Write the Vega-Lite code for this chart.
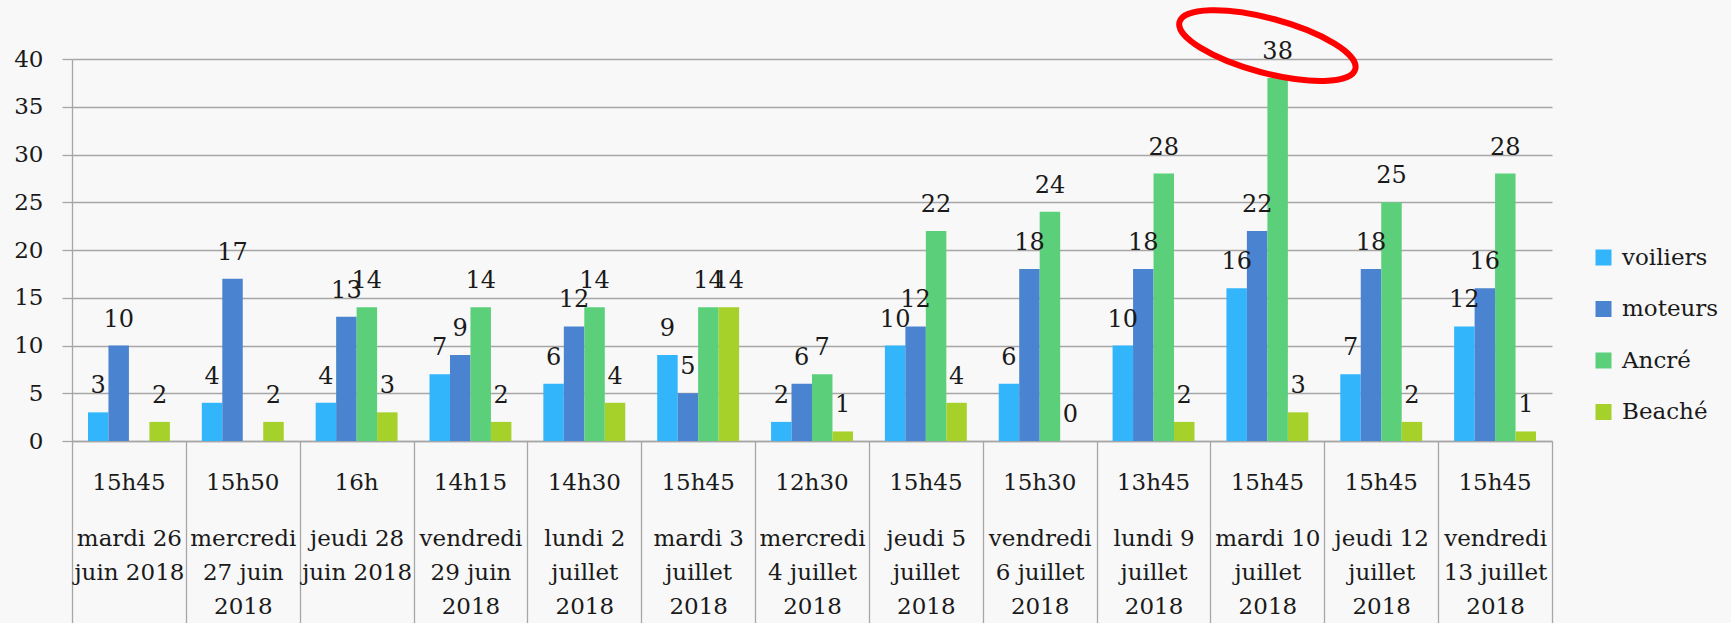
{
  "$schema": "https://vega.github.io/schema/vega-lite/v6.json",
  "autosize": "none",
  "width": 1480,
  "height": 382,
  "padding": {"left": 72, "top": 59, "right": 179, "bottom": 182},
  "background": "#f8f8f8",
  "config": {
    "view": {"stroke": null},
    "font": "DejaVu Serif",
    "text": {"font": "DejaVu Serif"},
    "axis": {"labelFont": "DejaVu Serif"},
    "legend": {"labelFont": "DejaVu Serif"}
  },
  "datasets": {
    "comptage": [
      {"cat": "15h45|mardi 26|juin 2018", "voiliers": 3, "moteurs": 10, "Ancré": null, "Beaché": 2},
      {"cat": "15h50|mercredi|27 juin|2018", "voiliers": 4, "moteurs": 17, "Ancré": null, "Beaché": 2},
      {"cat": "16h|jeudi 28|juin 2018", "voiliers": 4, "moteurs": 13, "Ancré": 14, "Beaché": 3},
      {"cat": "14h15|vendredi|29 juin|2018", "voiliers": 7, "moteurs": 9, "Ancré": 14, "Beaché": 2},
      {"cat": "14h30|lundi 2|juillet|2018", "voiliers": 6, "moteurs": 12, "Ancré": 14, "Beaché": 4},
      {"cat": "15h45|mardi 3|juillet|2018", "voiliers": 9, "moteurs": 5, "Ancré": 14, "Beaché": 14},
      {"cat": "12h30|mercredi|4 juillet|2018", "voiliers": 2, "moteurs": 6, "Ancré": 7, "Beaché": 1},
      {"cat": "15h45|jeudi 5|juillet|2018", "voiliers": 10, "moteurs": 12, "Ancré": 22, "Beaché": 4},
      {"cat": "15h30|vendredi|6 juillet|2018", "voiliers": 6, "moteurs": 18, "Ancré": 24, "Beaché": 0},
      {"cat": "13h45|lundi 9|juillet|2018", "voiliers": 10, "moteurs": 18, "Ancré": 28, "Beaché": 2},
      {"cat": "15h45|mardi 10|juillet|2018", "voiliers": 16, "moteurs": 22, "Ancré": 38, "Beaché": 3},
      {"cat": "15h45|jeudi 12|juillet|2018", "voiliers": 7, "moteurs": 18, "Ancré": 25, "Beaché": 2},
      {"cat": "15h45|vendredi|13 juillet|2018", "voiliers": 12, "moteurs": 16, "Ancré": 28, "Beaché": 1}
    ],
    "annotation": [
      {"cat": "15h45|mardi 10|juillet|2018", "value": 41.4}
    ]
  },
  "layer": [
    {
      "data": {"name": "comptage"},
      "transform": [
        {"fold": ["voiliers", "moteurs", "Ancré", "Beaché"], "as": ["serie", "value"]},
        {"filter": "datum.value != null"}
      ],
      "mark": {"type": "bar"},
      "encoding": {
        "x": {
          "field": "cat", "type": "nominal", "sort": null,
          "scale": {
            "domain": ["15h45|mardi 26|juin 2018", "15h50|mercredi|27 juin|2018", "16h|jeudi 28|juin 2018", "14h15|vendredi|29 juin|2018", "14h30|lundi 2|juillet|2018", "15h45|mardi 3|juillet|2018", "12h30|mercredi|4 juillet|2018", "15h45|jeudi 5|juillet|2018", "15h30|vendredi|6 juillet|2018", "13h45|lundi 9|juillet|2018", "15h45|mardi 10|juillet|2018", "15h45|jeudi 12|juillet|2018", "15h45|vendredi|13 juillet|2018"],
            "paddingInner": 0, "paddingOuter": 0
          },
          "axis": {
            "orient": "bottom",
            "title": null,
            "labelExpr": "split(datum.label, '|')[0]",
            "labelAngle": 0,
            "labelFont": "DejaVu Serif",
            "labelFontSize": 23,
            "labelColor": "#1a1a1a",
            "labelBaseline": "alphabetic",
            "labelPadding": 48,
            "ticks": false,
            "tickSize": 0,
            "domain": true,
            "domainColor": "#a6a6a6",
            "domainWidth": 1.3,
            "grid": false
          }
        },
        "xOffset": {
          "field": "serie", "type": "nominal",
          "scale": {"domain": ["voiliers", "moteurs", "Ancré", "Beaché"], "paddingInner": 0, "paddingOuter": 0.78}
        },
        "y": {
          "field": "value", "type": "quantitative",
          "scale": {"domain": [0, 40], "nice": false, "zero": true},
          "axis": {
            "title": null,
            "values": [0, 5, 10, 15, 20, 25, 30, 35, 40],
            "labelFont": "DejaVu Serif",
            "labelFontSize": 23,
            "labelColor": "#1a1a1a",
            "labelPadding": 19,
            "tickSize": 10,
            "tickColor": "#a6a6a6",
            "tickWidth": 1.3,
            "domainColor": "#a6a6a6",
            "domainWidth": 1.3,
            "grid": true,
            "gridColor": "#a6a6a6",
            "gridWidth": 1.3
          }
        },
        "color": {
          "field": "serie", "type": "nominal",
          "scale": {"domain": ["voiliers", "moteurs", "Ancré", "Beaché"], "range": ["#33B5FC", "#4A83D0", "#5BCF7A", "#A6D02A"]},
          "legend": {
            "title": null,
            "orient": "none",
            "legendX": 1520,
            "legendY": 187,
            "symbolType": "square",
            "symbolSize": 256,
            "symbolStrokeWidth": 0,
            "labelFont": "DejaVu Serif",
            "labelFontSize": 23,
            "labelColor": "#1a1a1a",
            "labelOffset": 7,
            "rowPadding": 27.5
          }
        }
      }
    },
    {
      "data": {"name": "comptage"},
      "transform": [
        {"fold": ["voiliers", "moteurs", "Ancré", "Beaché"], "as": ["serie", "value"]},
        {"filter": "datum.value != null"}
      ],
      "mark": {"type": "text", "baseline": "alphabetic", "dy": -19, "fontSize": 24, "font": "DejaVu Serif", "color": "#1a1a1a"},
      "encoding": {
        "x": {
          "field": "cat", "type": "nominal", "sort": null,
          "axis": {
            "orient": "bottom",
            "title": null,
            "labelExpr": "slice(split(datum.label, '|'), 1)",
            "labelAngle": 0,
            "labelFont": "DejaVu Serif",
            "labelFontSize": 23,
            "labelColor": "#1a1a1a",
            "labelBaseline": "alphabetic",
            "labelLineHeight": 34,
            "labelPadding": -78,
            "ticks": true,
            "tickBand": "extent",
            "tickSize": 182,
            "tickColor": "#a6a6a6",
            "tickWidth": 1.3,
            "domain": false,
            "grid": false
          }
        },
        "xOffset": {"field": "serie", "type": "nominal"},
        "y": {"field": "value", "type": "quantitative"},
        "text": {"field": "value", "type": "quantitative"}
      }
    },
    {
      "data": {"name": "annotation"},
      "mark": {
        "type": "point",
        "shape": "M-1,0 C-1,-0.166 -0.552,-0.3 0,-0.3 C0.552,-0.3 1,-0.166 1,0 C1,0.166 0.552,0.3 0,0.3 C-0.552,0.3 -1,0.166 -1,0 Z",
        "size": 33124,
        "filled": false,
        "stroke": "#ff0000",
        "strokeWidth": 6,
        "opacity": 1,
        "angle": 15
      },
      "encoding": {
        "x": {"field": "cat", "type": "nominal", "sort": null, "axis": null},
        "y": {"field": "value", "type": "quantitative"}
      }
    }
  ],
  "resolve": {"axis": {"x": "independent"}}
}
